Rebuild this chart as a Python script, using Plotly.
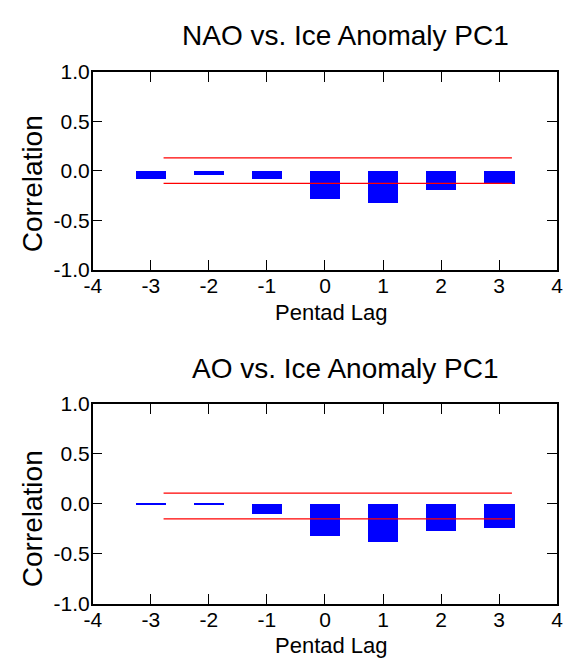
import plotly.graph_objects as go

# ---- data ----
lags = [-3, -2, -1, 0, 1, 2, 3]
nao_corr = [-0.085, -0.036, -0.085, -0.28, -0.32, -0.19, -0.135]
ao_corr = [-0.012, -0.008, -0.097, -0.32, -0.38, -0.275, -0.24]
nao_signif = [0.13, -0.127]
ao_signif = [0.107, -0.149]
signif_lag_span = [-2.78, 3.22]

x_tick_vals = [-4, -3, -2, -1, 0, 1, 2, 3, 4]
x_tick_text = ["-4", "-3", "-2", "-1", "0", "1", "2", "3", "4"]
y_tick_vals = [-1.0, -0.5, 0.0, 0.5, 1.0]
y_tick_text = ["-1.0", "-0.5", "0.0", "0.5", "1.0"]

titles = ["NAO vs. Ice Anomaly PC1", "AO vs. Ice Anomaly PC1"]
x_title = "Pentad Lag"
y_title = "Correlation"

W, H = 571, 666
FONT = "Liberation Sans, Arial, sans-serif"

fig = go.Figure()

panels = [
    (nao_corr, nao_signif, "x", "y"),
    (ao_corr, ao_signif, "x2", "y2"),
]
for vals, sig, xa, ya in panels:
    fig.add_trace(go.Bar(x=lags, y=vals, width=0.52, marker=dict(color="#0000FF", line=dict(width=0)),
                         xaxis=xa, yaxis=ya, showlegend=False))
    for s in sig:
        fig.add_trace(go.Scatter(x=signif_lag_span, y=[s, s], mode="lines",
                                 line=dict(color="#FF0000", width=1.2),
                                 xaxis=xa, yaxis=ya, showlegend=False))

def px_x(p):
    return p / W

def px_y(p):
    return 1 - p / H

axis_common = dict(showline=True, mirror="ticks", linecolor="black", linewidth=1.5,
                   ticks="inside", ticklen=10, tickwidth=1, tickcolor="black",
                   showgrid=False, zeroline=False, fixedrange=True,
                   tickfont=dict(family=FONT, size=21, color="black"))

xdom = [px_x(86), px_x(563)]
top_y = [px_y(267), px_y(62)]
bot_y = [px_y(613), px_y(406)]

fig.update_layout(
    width=W, height=H,
    margin=dict(l=0, r=0, t=0, b=0),
    paper_bgcolor="white", plot_bgcolor="white",
    bargap=0,
    xaxis=dict(domain=xdom, range=[-4, 4], tickvals=x_tick_vals, ticktext=x_tick_text,
               anchor="y", ticklabelstandoff=-4, **axis_common),
    yaxis=dict(domain=top_y, range=[-1, 1], tickvals=y_tick_vals, ticktext=y_tick_text,
               anchor="x", ticklabelstandoff=-3, **axis_common),
    xaxis2=dict(domain=xdom, range=[-4, 4], tickvals=x_tick_vals, ticktext=x_tick_text,
                anchor="y2", ticklabelstandoff=-4, **axis_common),
    yaxis2=dict(domain=bot_y, range=[-1, 1], tickvals=y_tick_vals, ticktext=y_tick_text,
                anchor="x2", ticklabelstandoff=-3, **axis_common),
)

annots = []
for title, ty, xty, yty in [(titles[0], 24, 311, 178), (titles[1], 369, 656, 525)]:
    annots.append(dict(text=title, x=px_x(346), y=px_y(ty), xref="paper", yref="paper",
                       xanchor="center", yanchor="middle", showarrow=False,
                       font=dict(family=FONT, size=28, color="black")))
    annots.append(dict(text=x_title, x=px_x(331), y=px_y(xty), xref="paper", yref="paper",
                       xanchor="center", yanchor="middle", showarrow=False,
                       font=dict(family=FONT, size=22, color="black")))
    annots.append(dict(text=y_title, x=px_x(25), y=px_y(yty), xref="paper", yref="paper",
                       xanchor="center", yanchor="middle", showarrow=False, textangle=-90,
                       font=dict(family=FONT, size=28, color="black")))
fig.update_layout(annotations=annots)

fig.write_html("out.html", config={"displayModeBar": False},
               post_script="document.body.style.margin='0px';document.body.style.overflow='hidden';")
